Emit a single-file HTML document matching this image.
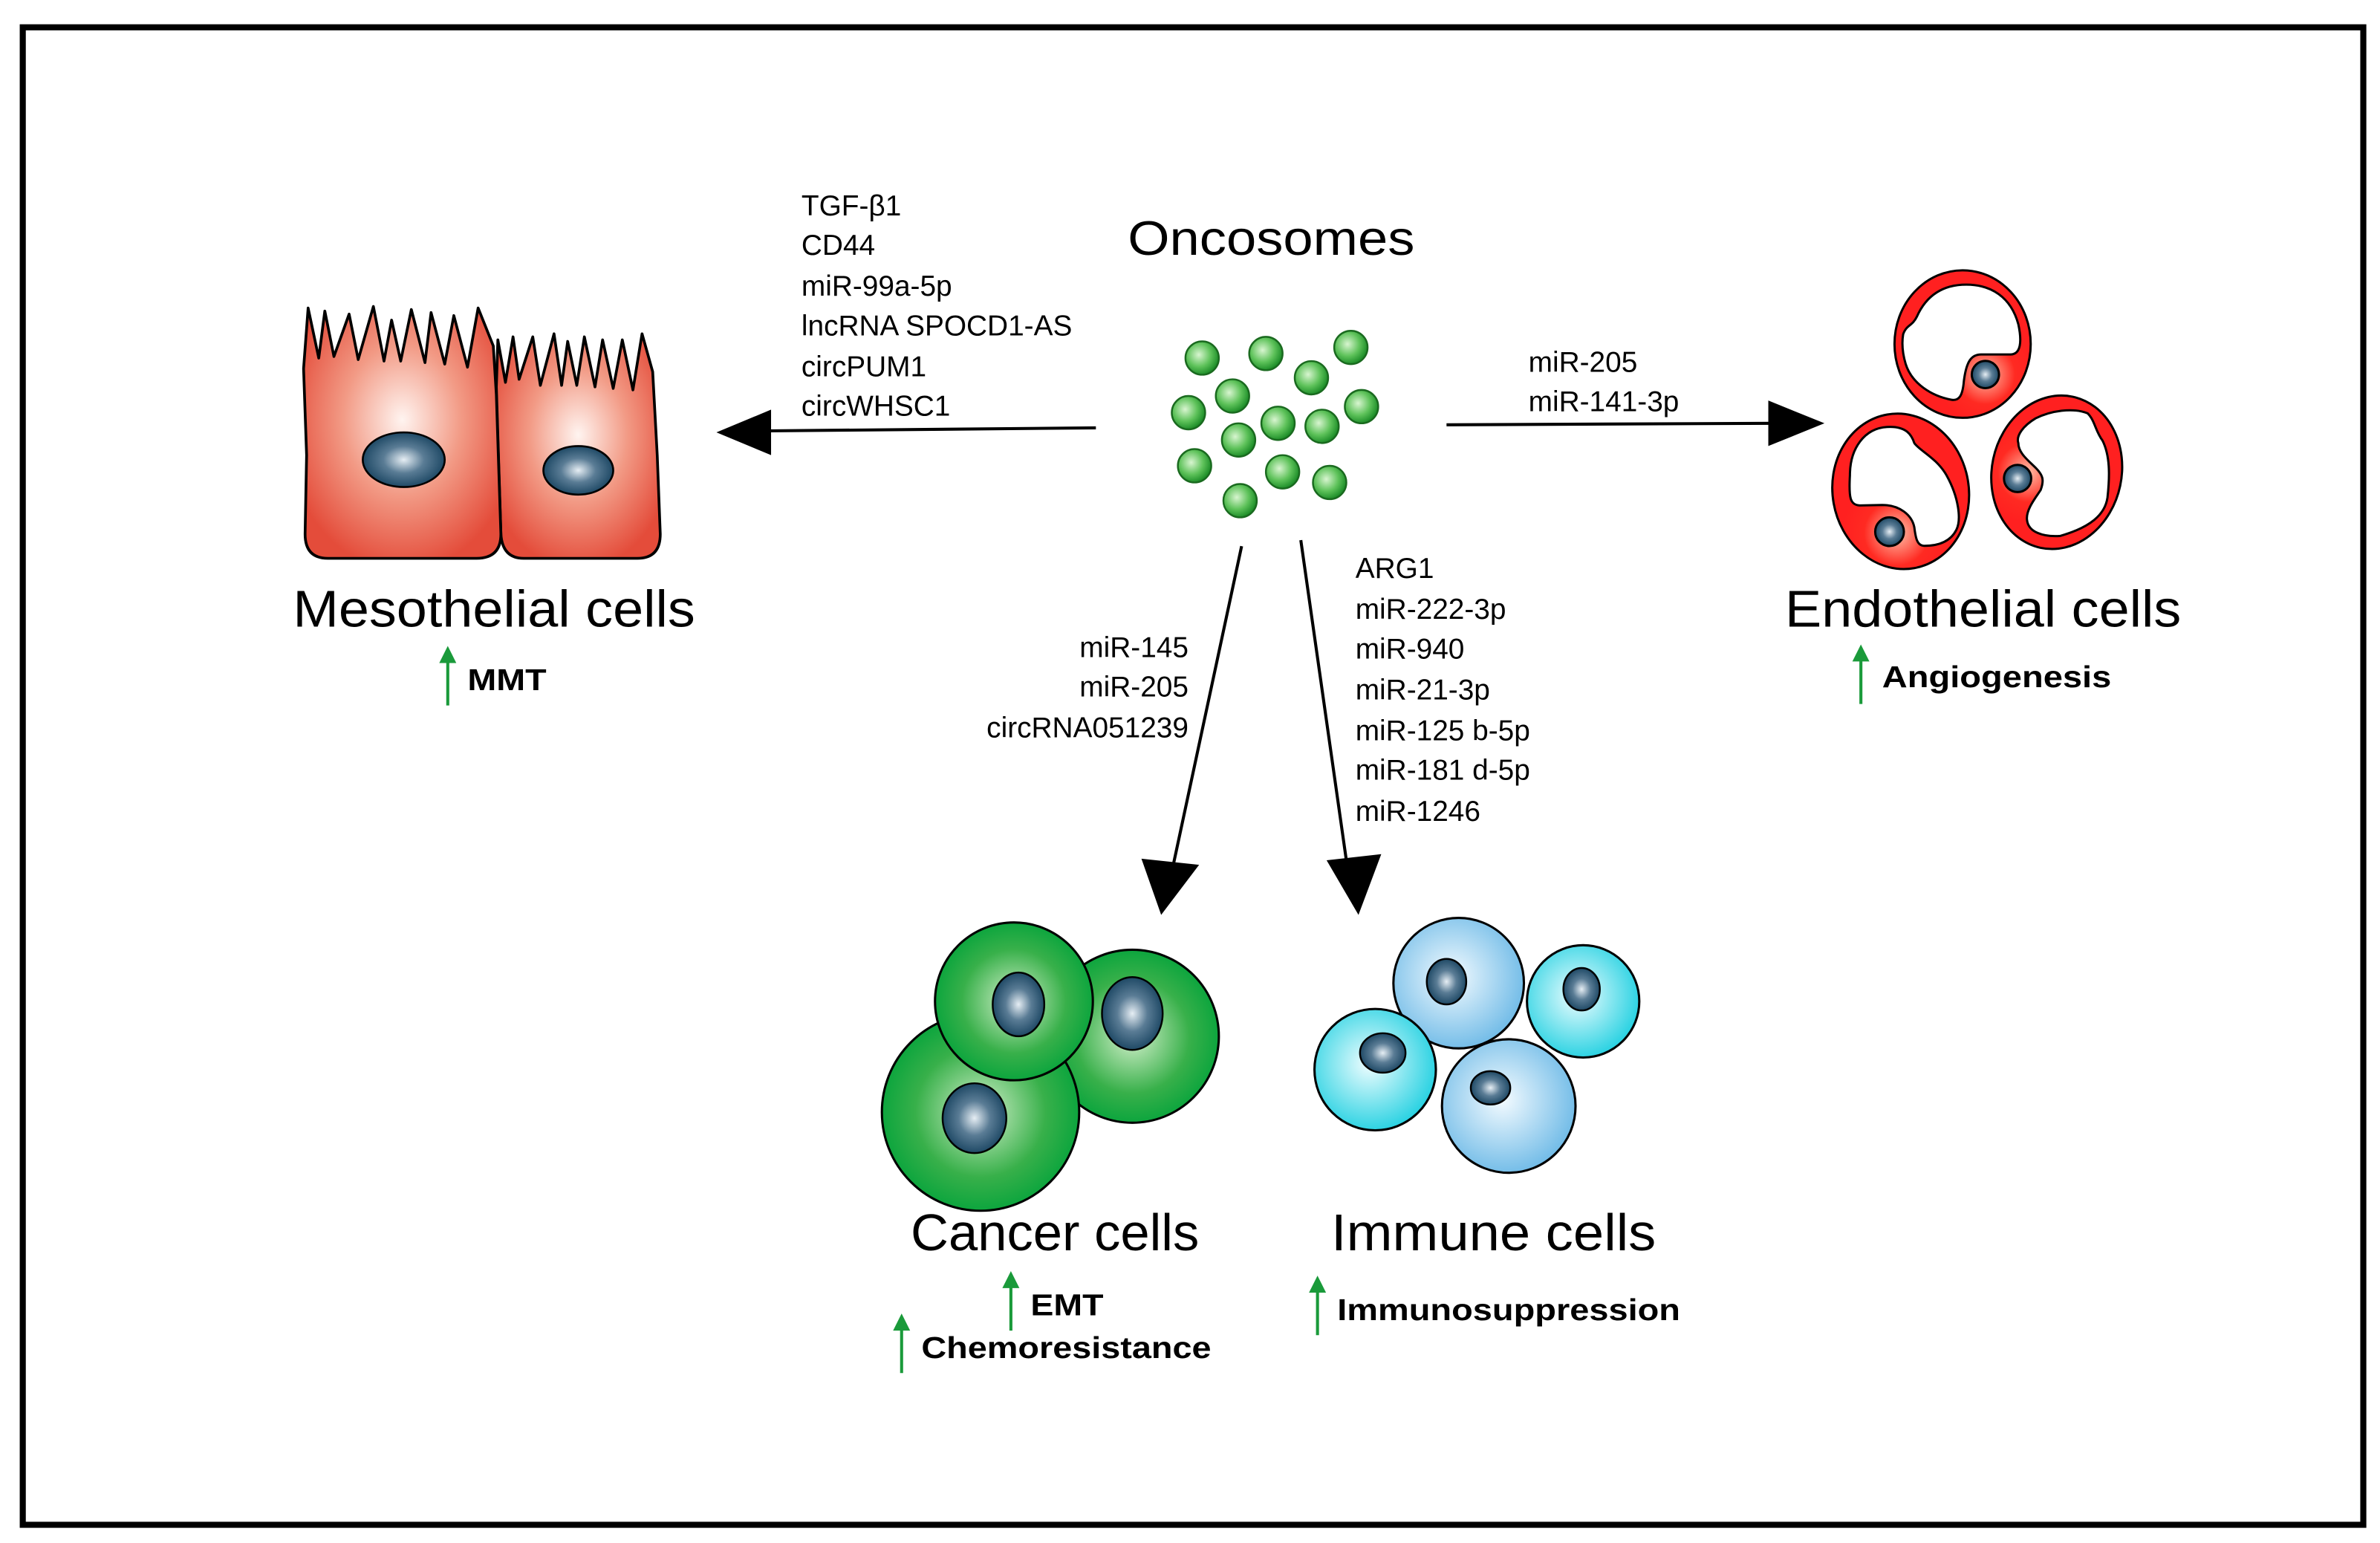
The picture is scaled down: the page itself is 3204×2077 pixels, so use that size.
<!DOCTYPE html>
<html><head><meta charset="utf-8"><style>
html,body{margin:0;padding:0;background:#fff}
svg{display:block}
text{font-family:"Liberation Sans",sans-serif}
</style></head><body>
<svg width="3204" height="2077" viewBox="0 0 1568 1017" preserveAspectRatio="none" xmlns="http://www.w3.org/2000/svg">
<defs>
<radialGradient id="gd" cx="40%" cy="40%" r="60%"><stop offset="0" stop-color="#d8f5d0"/><stop offset="0.6" stop-color="#5ec25a"/><stop offset="1" stop-color="#1f8f2a"/></radialGradient>
<radialGradient id="meso" cx="50%" cy="45%" r="60%"><stop offset="0" stop-color="#fff4f0"/><stop offset="0.5" stop-color="#f29a85"/><stop offset="1" stop-color="#e44c3a"/></radialGradient>
<radialGradient id="nuc" cx="50%" cy="50%" r="55%"><stop offset="0" stop-color="#e6eef4"/><stop offset="0.45" stop-color="#5a7c95"/><stop offset="1" stop-color="#133f5c"/></radialGradient>
<radialGradient id="can" cx="50%" cy="50%" r="55%"><stop offset="0" stop-color="#d4f0cc"/><stop offset="0.6" stop-color="#38b04a"/><stop offset="1" stop-color="#00a23a"/></radialGradient>
<radialGradient id="imm1" cx="45%" cy="45%" r="60%"><stop offset="0" stop-color="#f4fbff"/><stop offset="1" stop-color="#6ab8e6"/></radialGradient>
<radialGradient id="imm2" cx="45%" cy="45%" r="60%"><stop offset="0" stop-color="#f0fdff"/><stop offset="1" stop-color="#1ccfe0"/></radialGradient>
<radialGradient id="en1" gradientUnits="userSpaceOnUse" cx="697" cy="493" r="200"><stop offset="0" stop-color="#ffc0a8"/><stop offset="0.6" stop-color="#ff2a22"/><stop offset="1" stop-color="#ff2020"/></radialGradient>
<radialGradient id="en2" gradientUnits="userSpaceOnUse" cx="310" cy="1128" r="220"><stop offset="0" stop-color="#ffc0a8"/><stop offset="0.6" stop-color="#ff2a22"/><stop offset="1" stop-color="#ff2020"/></radialGradient>
<radialGradient id="en3" gradientUnits="userSpaceOnUse" cx="870" cy="913" r="200"><stop offset="0" stop-color="#ffc0a8"/><stop offset="0.6" stop-color="#ff2a22"/><stop offset="1" stop-color="#ff2020"/></radialGradient>
</defs>
<rect x="15" y="18" width="1542" height="987" fill="#fff" stroke="#000" stroke-width="4"/>

<text x="743" y="168" font-size="32" textLength="189" lengthAdjust="spacingAndGlyphs">Oncosomes</text>
<g fill="url(#gd)" stroke="#1a6a1f" stroke-width="1.2">
<circle cx="792" cy="236" r="11"/><circle cx="834" cy="233" r="11"/><circle cx="864" cy="249" r="11"/><circle cx="890" cy="229" r="11"/>
<circle cx="783" cy="272" r="11"/><circle cx="812" cy="261" r="11"/><circle cx="842" cy="279" r="11"/><circle cx="871" cy="281" r="11"/><circle cx="897" cy="268" r="11"/>
<circle cx="787" cy="307" r="11"/><circle cx="816" cy="290" r="11"/><circle cx="845" cy="311" r="11"/><circle cx="876" cy="318" r="11"/><circle cx="817" cy="330" r="11"/>
</g>

<g stroke="#000" stroke-width="2">
<line x1="722" y1="282" x2="505" y2="284"/>
<line x1="953" y1="280" x2="1168" y2="279"/>
<line x1="818" y1="360" x2="773" y2="570"/>
<line x1="857" y1="356" x2="887" y2="567"/>
</g>
<polygon points="472,285 508,270 508,300" fill="#000"/>
<polygon points="1202,279 1165,264 1165,294" fill="#000"/>
<polygon points="765,603 752,566 790,570" fill="#000"/>
<polygon points="895,603 874,567 910,563" fill="#000"/>

<g font-size="19">
<text x="528" y="142">TGF-β1</text><text x="528" y="168">CD44</text><text x="528" y="195">miR-99a-5p</text>
<text x="528" y="221">lncRNA SPOCD1-AS</text><text x="528" y="248">circPUM1</text><text x="528" y="274">circWHSC1</text>
<text x="1007" y="245">miR-205</text><text x="1007" y="271">miR-141-3p</text>
<text x="783" y="433" text-anchor="end">miR-145</text><text x="783" y="459" text-anchor="end">miR-205</text><text x="783" y="486" text-anchor="end">circRNA051239</text>
<text x="893" y="381">ARG1</text><text x="893" y="408">miR-222-3p</text><text x="893" y="434">miR-940</text><text x="893" y="461">miR-21-3p</text>
<text x="893" y="488">miR-125 b-5p</text><text x="893" y="514">miR-181 d-5p</text><text x="893" y="541">miR-1246</text>
</g>

<!-- mesothelial -->
<g stroke="#000" stroke-width="1.8" stroke-linejoin="round" fill="url(#meso)">
<path d="M327,255 L328,224 L333,252 L338,222 L342,250 L351,222 L356,254 L365,220 L370,254 L374,225 L380,254 L385,222 L392,255 L397,224 L404,256 L410,224 L417,257 L423,220 L430,245 L433,300 L435,352 Q435,368 420,368 L345,368 Q331,368 330,352 Z"/>
<path d="M200,243 L203,203 L210,236 L214,205 L220,235 L230,207 L236,237 L246,202 L253,238 L258,211 L264,238 L271,204 L280,239 L284,206 L293,240 L299,208 L308,242 L315,203 L325,228 L327,260 L330,352 Q330,368 314,368 L216,368 Q201,368 201,352 L202,300 Z"/>
</g>
<ellipse cx="266" cy="303" rx="27" ry="18" fill="url(#nuc)" stroke="#000" stroke-width="1.3"/>
<ellipse cx="381" cy="310" rx="23" ry="16" fill="url(#nuc)" stroke="#000" stroke-width="1.3"/>
<text x="193" y="413" font-size="34" textLength="265" lengthAdjust="spacingAndGlyphs">Mesothelial cells</text>

<!-- endothelial (zoom-coordinate system) -->
<g transform="translate(1194.3,166.4) scale(0.16316)" stroke="#000" stroke-width="9">
<ellipse cx="605" cy="370" rx="275" ry="298" fill="url(#en1)"/>
<path fill="#fff" d="M365,330 C380,290 400,300 420,260 C460,170 530,130 620,130 C720,130 800,180 830,290 C845,360 840,410 800,412 L680,412 C640,412 620,440 610,520 C605,580 590,600 560,595 C480,580 400,530 375,450 C360,400 360,360 365,330 Z"/>
<ellipse cx="355" cy="965" rx="275" ry="315" fill="url(#en2)" transform="rotate(-10 355 965)"/>
<path fill="#fff" d="M150,900 C150,790 210,710 300,705 C380,700 400,740 410,770 C430,800 500,830 540,900 C590,990 600,1080 580,1120 C560,1160 520,1185 450,1185 C420,1185 415,1150 410,1110 C400,1060 350,1020 280,1020 L190,1022 C150,1020 145,990 150,900 Z"/>
<ellipse cx="985" cy="888" rx="262" ry="312" fill="url(#en3)" transform="rotate(12 985 888)"/>
<path fill="#fff" d="M830,770 C820,740 850,700 900,670 C960,640 1050,625 1110,650 C1140,680 1140,720 1170,760 C1200,820 1200,900 1190,990 C1180,1060 1120,1110 1000,1145 C930,1150 870,1130 865,1080 C860,1040 900,990 920,960 C935,920 930,900 900,870 C870,840 830,810 830,770 Z"/>
<circle cx="697" cy="493" r="55" fill="url(#nuc)"/>
<circle cx="310" cy="1128" r="58" fill="url(#nuc)"/>
<circle cx="827" cy="913" r="55" fill="url(#nuc)"/>
</g>
<text x="1176" y="413" font-size="34" textLength="261" lengthAdjust="spacingAndGlyphs">Endothelial cells</text>

<!-- cancer -->
<g stroke="#000" stroke-width="1.5" fill="url(#can)">
<circle cx="746" cy="683" r="57"/><circle cx="646" cy="733" r="65"/><circle cx="668" cy="660" r="52"/>
</g>
<g fill="url(#nuc)" stroke="#000" stroke-width="1.2">
<ellipse cx="671" cy="662" rx="17" ry="21"/><ellipse cx="746" cy="668" rx="20" ry="24"/><ellipse cx="642" cy="737" rx="21" ry="23"/>
</g>
<text x="600" y="824" font-size="34" textLength="190" lengthAdjust="spacingAndGlyphs">Cancer cells</text>

<!-- immune -->
<g stroke="#000" stroke-width="1.5">
<circle cx="961" cy="648" r="43" fill="url(#imm1)"/><circle cx="1043" cy="660" r="37" fill="url(#imm2)"/>
<circle cx="906" cy="705" r="40" fill="url(#imm2)"/><circle cx="994" cy="729" r="44" fill="url(#imm1)"/>
</g>
<g fill="url(#nuc)" stroke="#000" stroke-width="1.2">
<ellipse cx="953" cy="647" rx="13" ry="15"/><ellipse cx="1042" cy="652" rx="12" ry="14"/><ellipse cx="911" cy="694" rx="15" ry="13"/><ellipse cx="982" cy="717" rx="13" ry="11"/>
</g>
<text x="877" y="824" font-size="34" textLength="214" lengthAdjust="spacingAndGlyphs">Immune cells</text>

<g stroke="#1a9a3a" stroke-width="2" fill="#1a9a3a">
<line x1="295" y1="465" x2="295" y2="434"/><polygon points="291,436 299,436 295,428"/>
<line x1="1226" y1="464" x2="1226" y2="433"/><polygon points="1222,435 1230,435 1226,427"/>
<line x1="666" y1="877" x2="666" y2="846"/><polygon points="662,848 670,848 666,840"/>
<line x1="594" y1="905" x2="594" y2="874"/><polygon points="590,876 598,876 594,868"/>
<line x1="868" y1="880" x2="868" y2="849"/><polygon points="864,851 872,851 868,843"/>
</g>
<g font-size="20" font-weight="bold">
<text x="308" y="455" textLength="52" lengthAdjust="spacingAndGlyphs">MMT</text>
<text x="1240" y="453" textLength="151" lengthAdjust="spacingAndGlyphs">Angiogenesis</text>
<text x="679" y="867" textLength="48" lengthAdjust="spacingAndGlyphs">EMT</text>
<text x="607" y="895" textLength="191" lengthAdjust="spacingAndGlyphs">Chemoresistance</text>
<text x="881" y="870" textLength="226" lengthAdjust="spacingAndGlyphs">Immunosuppression</text>
</g>
</svg>
</body></html>
